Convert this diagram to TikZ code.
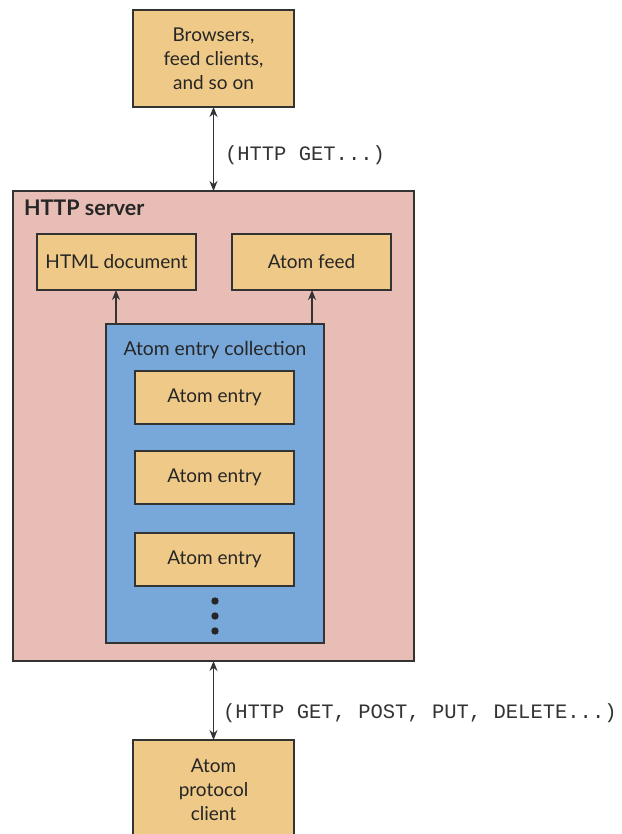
\documentclass[tikz,border=0pt]{standalone}
\usepackage{fontspec}
\setmainfont{Lato}
\setmonofont{Liberation Mono}
\usetikzlibrary{arrows.meta}
\definecolor{boxtan}{HTML}{EFC987}
\definecolor{serverpink}{HTML}{E8BDB5}
\definecolor{collblue}{HTML}{78A8D9}
\definecolor{edge}{HTML}{333333}
\begin{document}
\begin{tikzpicture}[x=1pt,y=-1pt,
  every node/.style={inner sep=0pt, outer sep=0pt},
  panel/.style={draw=edge, line width=1.3pt, fill=boxtan, align=center,
    font=\fontsize{19}{24}\selectfont, text=black!85},
  tip/.style={-{Stealth[length=10pt,width=8pt]}, draw=edge, line width=1.3pt},
  both/.style={{Stealth[length=10pt,width=8pt]}-{Stealth[length=10pt,width=8pt]}, draw=edge, line width=1.3pt},
  proto/.style={font=\fontsize{20.5}{24}\ttfamily, text=black!80, anchor=west}]
\useasboundingbox (0,0) rectangle (621,834);
\clip (0,0) rectangle (621,834);

% clients at the top
\node[panel, minimum width=161pt, minimum height=97pt] (browsers) at (213.5,58.5)
  {Browsers,\\feed clients,\\and so on};

% the HTTP server
\node[draw=edge, line width=1.3pt, fill=serverpink, minimum width=401pt, minimum height=470pt] (server) at (213.5,426) {};
\node[anchor=west, font=\fontsize{21.5}{24}\selectfont\bfseries, text=black!85] (servertitle) at (24,208) {HTTP server};

\node[panel, minimum width=159pt, minimum height=56pt] (html) at (116.5,262) {HTML document};
\node[panel, minimum width=159pt, minimum height=56pt] (feed) at (311.5,262) {Atom feed};

% the entry collection
\node[draw=edge, line width=1.3pt, fill=collblue, minimum width=218pt, minimum height=319pt] (coll) at (215,483.5) {};
\node[font=\fontsize{19.3}{22}\selectfont, text=black!85] (colltitle) at (215,350) {Atom entry collection};

\node[panel, minimum width=159pt, minimum height=53pt] (e1) at (214.5,397.5) {Atom entry};
\node[panel, minimum width=159pt, minimum height=53pt] (e2) at (214.5,477.5) {Atom entry};
\node[panel, minimum width=159pt, minimum height=53pt] (e3) at (214.5,559.5) {Atom entry};

\foreach \y/\n in {601/d1,616/d2,631/d3}
  \fill[black!85] (215,\y) circle (3.7pt) coordinate (\n);

\coordinate (htmlfoot) at (116,324);
\coordinate (feedfoot) at (312,324);
\draw[tip] (htmlfoot) -- (html.south -| htmlfoot);
\draw[tip] (feedfoot) -- (feed.south -| feedfoot);

% the publishing client
\node[panel, minimum width=161pt, minimum height=110pt] (client) at (213.5,795) {};
\node[align=center, font=\fontsize{19}{24}\selectfont, text=black!85] (clienttext) at (213.5,790) {Atom\\protocol\\client};

% the protocol exchanges
\draw[both] (browsers.south) -- (browsers.south |- server.north);
\node[proto] (getlabel) at (225,155) {(HTTP GET...)};
\draw[both] (server.south -| client.north) -- (client.north);
\node[proto] (rwlabel) at (223,713) {(HTTP GET, POST, PUT, DELETE...)};
\end{tikzpicture}
\end{document}
